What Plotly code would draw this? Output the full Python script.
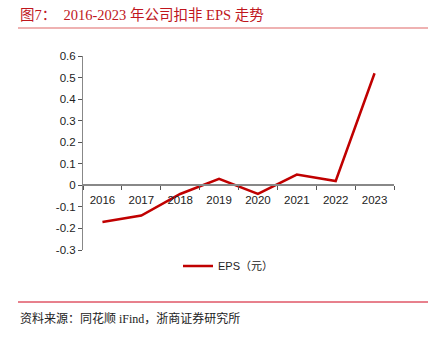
import plotly.graph_objects as go

years = ["2016", "2017", "2018", "2019", "2020", "2021", "2022", "2023"]
eps = [-0.17, -0.14, -0.04, 0.03, -0.04, 0.05, 0.02, 0.52]
y_ticks = [0.6, 0.5, 0.4, 0.3, 0.2, 0.1, 0, -0.1, -0.2, -0.3]
y_tick_text = ["0.6", "0.5", "0.4", "0.3", "0.2", "0.1", "0", "-0.1", "-0.2", "-0.3"]

W, H = 435, 338
L, R, T, B = 83, 41, 56, 88

fig = go.Figure()
fig.add_trace(go.Scatter(x=years, y=eps, mode="lines", name="EPS（元）",
                         line=dict(color="#C00000", width=2.5)))

def px_x(p):
    return (p - L) / (W - L - R)

def px_y(p):
    return (H - B - p) / (H - T - B)

fig.update_layout(
    width=W, height=H,
    margin=dict(l=L, r=R, t=T, b=B),
    paper_bgcolor="white", plot_bgcolor="white",
    font=dict(family="Liberation Sans, Arial", size=11, color="#222"),
    showlegend=True,
    legend=dict(orientation="h", x=px_x(178), xanchor="left", y=px_y(266), yanchor="middle",
                font=dict(size=11, family="Liberation Sans, Noto Sans CJK SC"),
                itemwidth=30, bgcolor="rgba(0,0,0,0)"),
    xaxis=dict(type="category", range=[-0.5, len(years) - 0.5], anchor="free", position=1/3,
               showline=True, linecolor="#888", linewidth=1.5, ticks="outside",
               tickson="boundaries", ticklen=4, tickcolor="#555", showgrid=False,
               zeroline=False, ticklabelstandoff=4,
               tickfont=dict(size=11.5, color="#222")),
    yaxis=dict(range=[-0.3, 0.6], tickvals=y_ticks, ticktext=y_tick_text,
               showline=True, linecolor="#888", linewidth=1, ticks="outside",
               ticklen=4, tickcolor="#555", showgrid=False, zeroline=False,
               tickfont=dict(size=11.5, color="#222")),
)

fig.add_annotation(text="图7：  2016-2023 年公司扣非 EPS 走势", xref="paper", yref="paper",
                   x=px_x(18), y=px_y(15), xanchor="left", yanchor="middle", showarrow=False,
                   font=dict(family="Liberation Serif, Noto Sans CJK SC", size=14.5, color="#C0161D"))
fig.add_annotation(text="资料来源：同花顺 iFind，浙商证券研究所", xref="paper", yref="paper",
                   x=px_x(18), y=px_y(318), xanchor="left", yanchor="middle", showarrow=False,
                   font=dict(family="Liberation Serif, Noto Sans CJK SC", size=12, color="#222"))
fig.add_shape(type="line", xref="paper", yref="paper", x0=px_x(18), x1=px_x(428),
              y0=px_y(28), y1=px_y(28), line=dict(color="#E06666", width=1.2))
fig.add_shape(type="line", xref="paper", yref="paper", x0=px_x(18), x1=px_x(428),
              y0=px_y(302), y1=px_y(302), line=dict(color="#D0021B", width=1))

fig.write_html("out.html")
